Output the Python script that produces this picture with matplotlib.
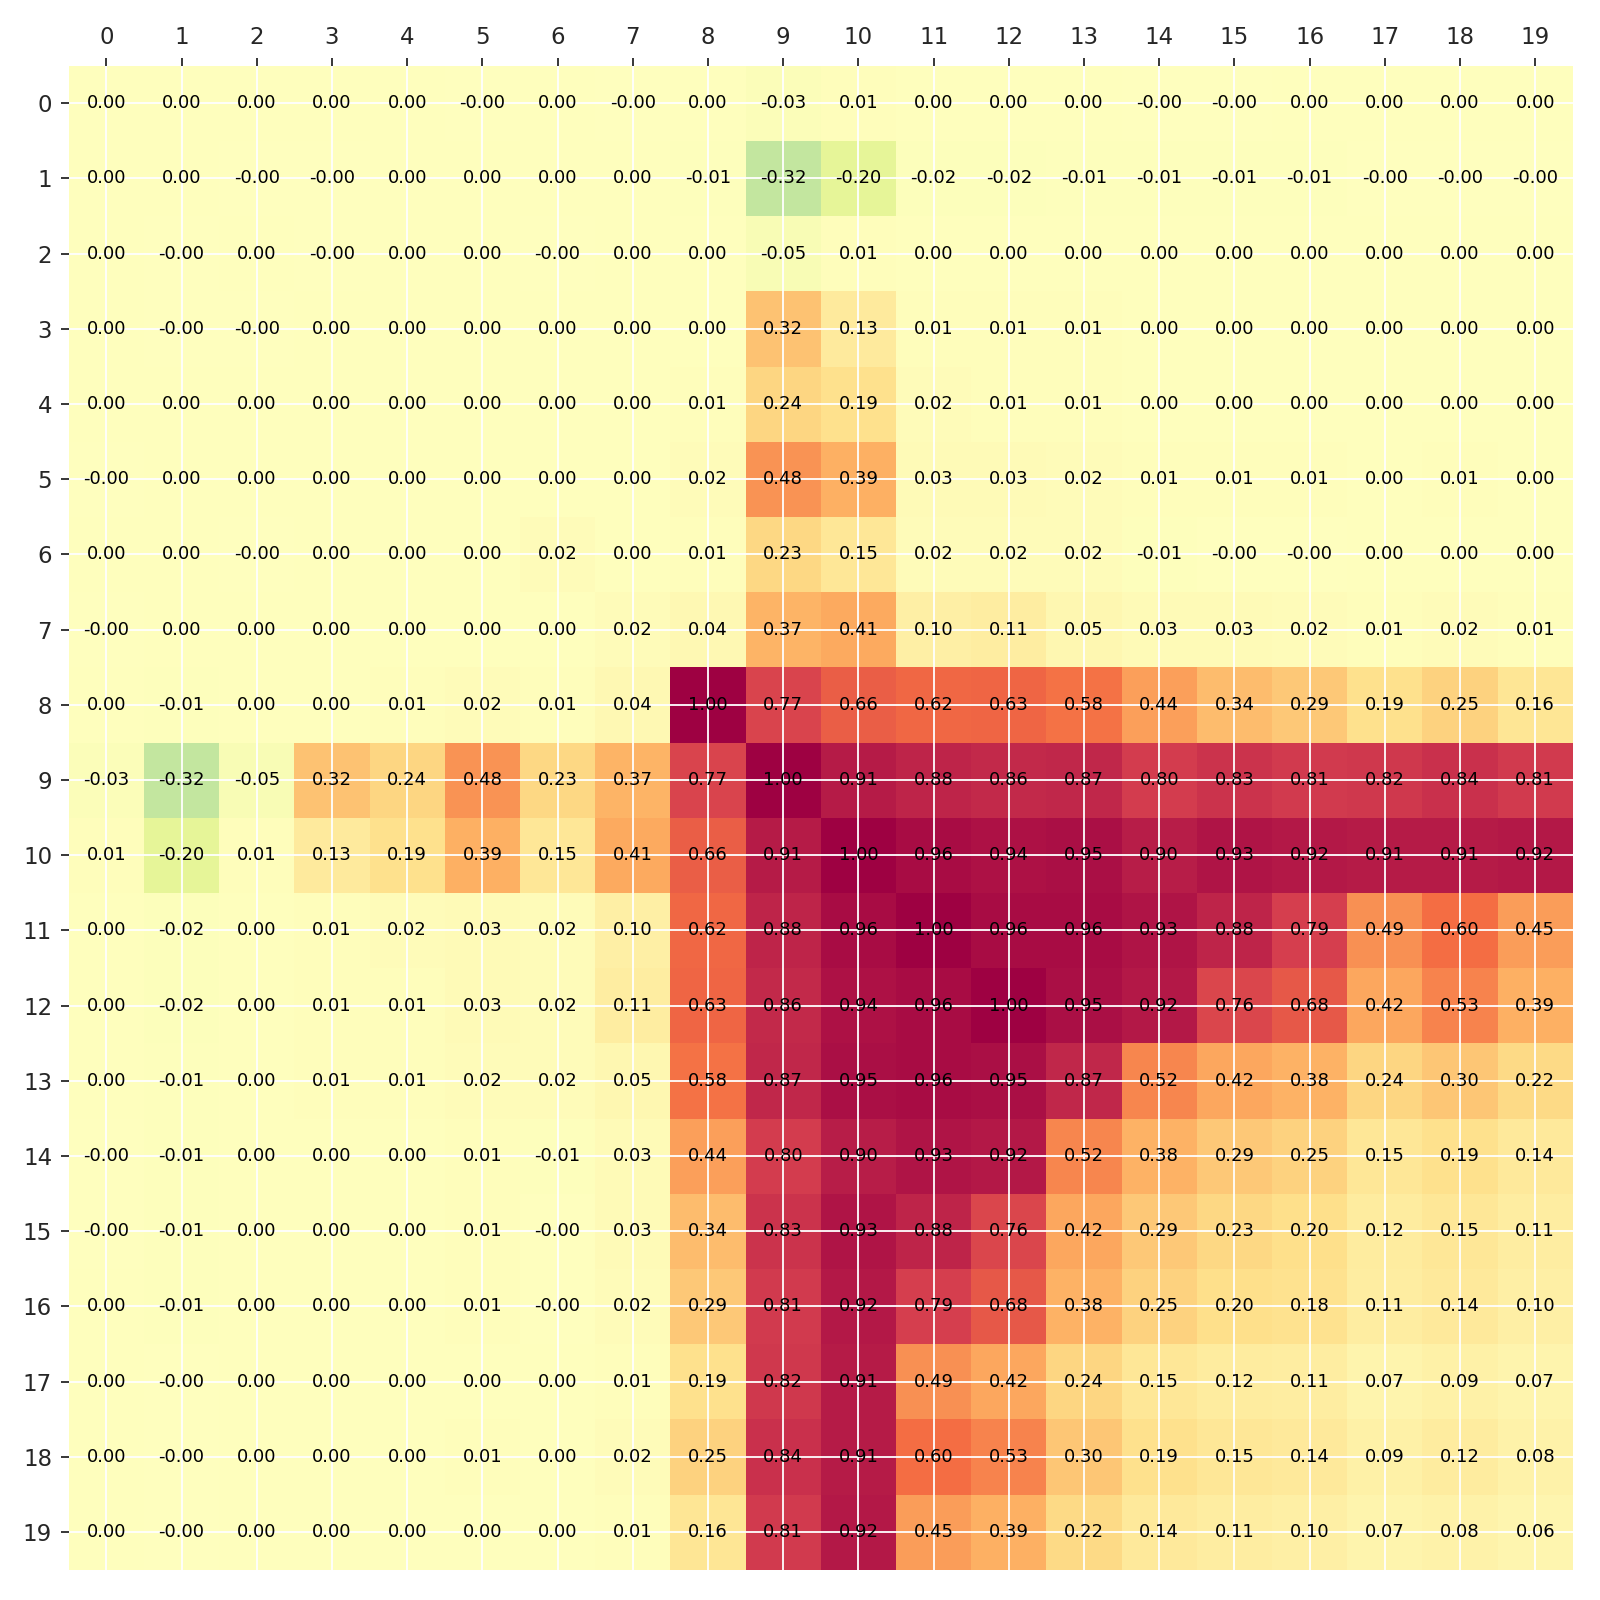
import numpy as np
import matplotlib
matplotlib.use("Agg")
import matplotlib.pyplot as plt

# matrix values (-0.001 stands for the "-0.00" cells)
z = -0.001
row_0 = [0.00, 0.00, 0.00, 0.00, 0.00, z, 0.00, z, 0.00, -0.03, 0.01, 0.00, 0.00, 0.00, z, z, 0.00, 0.00, 0.00, 0.00]
row_1 = [0.00, 0.00, z, z, 0.00, 0.00, 0.00, 0.00, -0.01, -0.32, -0.20, -0.02, -0.02, -0.01, -0.01, -0.01, -0.01, z, z, z]
row_2 = [0.00, z, 0.00, z, 0.00, 0.00, z, 0.00, 0.00, -0.05, 0.01, 0.00, 0.00, 0.00, 0.00, 0.00, 0.00, 0.00, 0.00, 0.00]
row_3 = [0.00, z, z, 0.00, 0.00, 0.00, 0.00, 0.00, 0.00, 0.32, 0.13, 0.01, 0.01, 0.01, 0.00, 0.00, 0.00, 0.00, 0.00, 0.00]
row_4 = [0.00, 0.00, 0.00, 0.00, 0.00, 0.00, 0.00, 0.00, 0.01, 0.24, 0.19, 0.02, 0.01, 0.01, 0.00, 0.00, 0.00, 0.00, 0.00, 0.00]
row_5 = [z, 0.00, 0.00, 0.00, 0.00, 0.00, 0.00, 0.00, 0.02, 0.48, 0.39, 0.03, 0.03, 0.02, 0.01, 0.01, 0.01, 0.00, 0.01, 0.00]
row_6 = [0.00, 0.00, z, 0.00, 0.00, 0.00, 0.02, 0.00, 0.01, 0.23, 0.15, 0.02, 0.02, 0.02, -0.01, z, z, 0.00, 0.00, 0.00]
row_7 = [z, 0.00, 0.00, 0.00, 0.00, 0.00, 0.00, 0.02, 0.04, 0.37, 0.41, 0.10, 0.11, 0.05, 0.03, 0.03, 0.02, 0.01, 0.02, 0.01]
row_8 = [0.00, -0.01, 0.00, 0.00, 0.01, 0.02, 0.01, 0.04, 1.00, 0.77, 0.66, 0.62, 0.63, 0.58, 0.44, 0.34, 0.29, 0.19, 0.25, 0.16]
row_9 = [-0.03, -0.32, -0.05, 0.32, 0.24, 0.48, 0.23, 0.37, 0.77, 1.00, 0.91, 0.88, 0.86, 0.87, 0.80, 0.83, 0.81, 0.82, 0.84, 0.81]
row_10 = [0.01, -0.20, 0.01, 0.13, 0.19, 0.39, 0.15, 0.41, 0.66, 0.91, 1.00, 0.96, 0.94, 0.95, 0.90, 0.93, 0.92, 0.91, 0.91, 0.92]
row_11 = [0.00, -0.02, 0.00, 0.01, 0.02, 0.03, 0.02, 0.10, 0.62, 0.88, 0.96, 1.00, 0.96, 0.96, 0.93, 0.88, 0.79, 0.49, 0.60, 0.45]
row_12 = [0.00, -0.02, 0.00, 0.01, 0.01, 0.03, 0.02, 0.11, 0.63, 0.86, 0.94, 0.96, 1.00, 0.95, 0.92, 0.76, 0.68, 0.42, 0.53, 0.39]
row_13 = [0.00, -0.01, 0.00, 0.01, 0.01, 0.02, 0.02, 0.05, 0.58, 0.87, 0.95, 0.96, 0.95, 0.87, 0.52, 0.42, 0.38, 0.24, 0.30, 0.22]
row_14 = [z, -0.01, 0.00, 0.00, 0.00, 0.01, -0.01, 0.03, 0.44, 0.80, 0.90, 0.93, 0.92, 0.52, 0.38, 0.29, 0.25, 0.15, 0.19, 0.14]
row_15 = [z, -0.01, 0.00, 0.00, 0.00, 0.01, z, 0.03, 0.34, 0.83, 0.93, 0.88, 0.76, 0.42, 0.29, 0.23, 0.20, 0.12, 0.15, 0.11]
row_16 = [0.00, -0.01, 0.00, 0.00, 0.00, 0.01, z, 0.02, 0.29, 0.81, 0.92, 0.79, 0.68, 0.38, 0.25, 0.20, 0.18, 0.11, 0.14, 0.10]
row_17 = [0.00, z, 0.00, 0.00, 0.00, 0.00, 0.00, 0.01, 0.19, 0.82, 0.91, 0.49, 0.42, 0.24, 0.15, 0.12, 0.11, 0.07, 0.09, 0.07]
row_18 = [0.00, z, 0.00, 0.00, 0.00, 0.01, 0.00, 0.02, 0.25, 0.84, 0.91, 0.60, 0.53, 0.30, 0.19, 0.15, 0.14, 0.09, 0.12, 0.08]
row_19 = [0.00, z, 0.00, 0.00, 0.00, 0.00, 0.00, 0.01, 0.16, 0.81, 0.92, 0.45, 0.39, 0.22, 0.14, 0.11, 0.10, 0.07, 0.08, 0.06]

labels = [str(i) for i in range(20)]

mat = np.array([row_0, row_1, row_2, row_3, row_4, row_5, row_6, row_7, row_8, row_9,
                row_10, row_11, row_12, row_13, row_14, row_15, row_16, row_17, row_18, row_19])
n = len(labels)

fig = plt.figure(figsize=(16, 16), dpi=100)
ax = fig.add_axes([0.043, 0.019, 0.940, 0.940])

ax.imshow(mat, cmap="Spectral_r", vmin=-1, vmax=1, interpolation="nearest", aspect="auto")

# cell annotations
for i in range(n):
    for j in range(n):
        ax.text(j, i, "%.2f" % mat[i, j], ha="center", va="center", fontsize=13, color="black")

ax.xaxis.tick_top()
ax.set_xticks(range(n))
ax.set_yticks(range(n))
ax.set_xticklabels(labels)
ax.set_yticklabels(labels)
ax.tick_params(axis="both", labelsize=16.5, colors="#262626", length=6, width=1.3, pad=6)
ax.grid(True, color="white", linewidth=1.3)
for s in ax.spines.values():
    s.set_visible(False)

plt.savefig("out.png", dpi=100)
plt.close()
